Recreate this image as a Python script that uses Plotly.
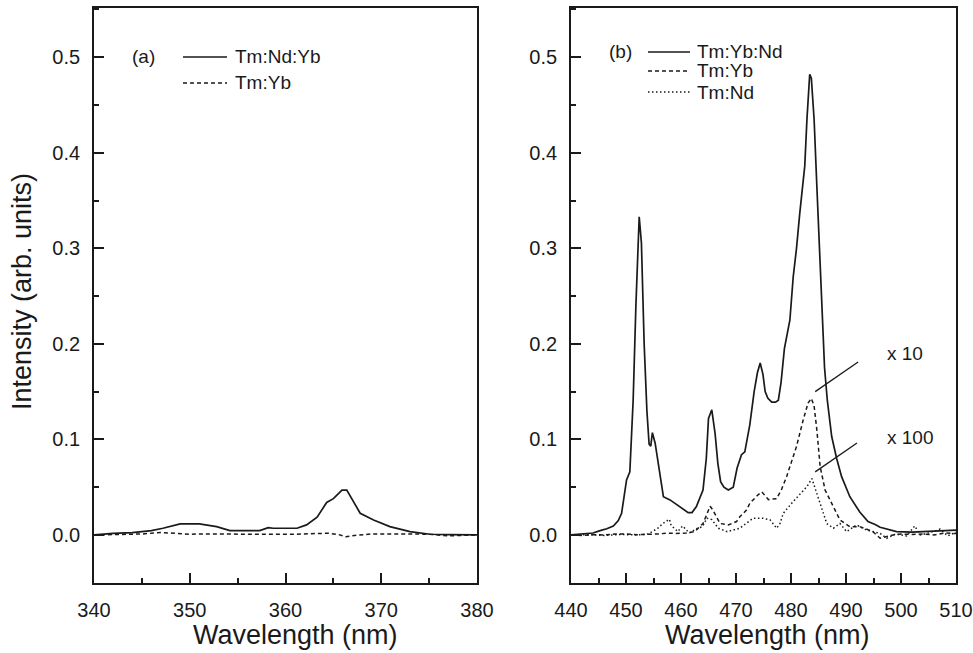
import plotly.graph_objects as go

# ---------------- data ----------------
# panel (a)
wl_a_tmndyb = [340, 342, 344, 346, 347.2, 349, 351, 352.8, 354.2, 357.3, 358.2, 358.7, 361.2, 362.2,
               363.3, 364.3, 365.0, 365.9, 366.4, 367.8, 369.2, 370.9, 373.0, 375.1, 377, 380]
int_a_tmndyb = [0, 0.0017, 0.0025, 0.0045, 0.007, 0.0115, 0.0115, 0.0087, 0.0045, 0.0045, 0.0077, 0.007,
                0.007, 0.0105, 0.0185, 0.034, 0.038, 0.047, 0.047, 0.0227, 0.0157, 0.0087, 0.0035,
                0.0007, 0.0003, 0]

wl_a_tmyb = [340, 343, 345, 347, 348.5, 350, 352, 355, 358, 361, 363, 364.5, 365.5, 366.3, 367.2,
             369, 372, 375, 377, 378.5, 380]
int_a_tmyb = [0, 0.0005, 0.001, 0.0025, 0.0015, 0.0008, 0.001, 0.0005, 0.0007, 0.0008, 0.0012,
              0.0018, 0.0005, -0.002, -0.0005, 0.001, 0.001, 0.0008, -0.001, -0.0005, 0]

# panel (b)
wl_b_tmybnd = [440, 442, 444, 445.3, 446.5, 447.7, 448.6, 449.2, 449.7, 450.1, 450.7, 451.3, 451.8,
               452.4, 452.8, 453.3, 453.8, 454.2, 454.5, 454.8, 455.3, 456.0, 456.8, 458.0, 459.7,
               461.3, 462.0, 462.8, 464.0, 464.6, 465.0, 465.6, 466.2, 466.7, 467.2, 467.8, 468.6,
               469.5, 470.2, 471.0, 471.6, 472.5, 473.3, 473.9, 474.4, 474.9, 475.3, 475.8, 476.5,
               477.2, 477.7, 478.2, 478.8, 479.8, 480.4, 481.0, 481.6, 482.5, 482.9, 483.4, 483.7,
               484.2, 484.7, 485.3, 485.6, 486.1, 486.6, 487.4, 488.3, 489.2, 490.7, 492.5, 494.0,
               495.3, 496.2, 497.4, 499.2, 502, 505, 508, 510]
int_b_tmybnd = [0.0, 0.0008, 0.002, 0.0045, 0.0065, 0.0094, 0.015, 0.0227, 0.04, 0.0576, 0.066, 0.141,
                0.24, 0.333, 0.306, 0.20, 0.13, 0.095, 0.093, 0.107, 0.096, 0.07, 0.040, 0.0367, 0.030,
                0.0234, 0.0234, 0.0297, 0.047, 0.08, 0.122, 0.131, 0.106, 0.075, 0.0558, 0.05, 0.047,
                0.050, 0.070, 0.084, 0.087, 0.115, 0.150, 0.170, 0.180, 0.168, 0.150, 0.143, 0.139,
                0.139, 0.141, 0.160, 0.195, 0.225, 0.270, 0.300, 0.337, 0.386, 0.435, 0.482, 0.478,
                0.435, 0.365, 0.288, 0.232, 0.175, 0.141, 0.103, 0.080, 0.061, 0.040, 0.024, 0.014,
                0.011, 0.008, 0.006, 0.0035, 0.003, 0.0035, 0.004, 0.005]

wl_b_tmyb = [440, 442, 444, 446, 448, 450, 452, 454, 456, 457.4, 459, 461, 462.5, 464, 465.3, 465.8,
             467.1, 468.6, 470.1, 470.7, 471.9, 472.5, 474.0, 474.7, 475.9, 477.4, 478.3, 479.2, 481.0,
             482.2, 483.1, 483.7, 484.2, 484.7, 485.3, 486.2, 487.7, 488.9, 490.7, 492.5, 494.9,
             496.2, 497.4, 498.6, 500, 502, 504, 506, 508, 510]
int_b_tmyb = [0.0, -0.0005, 0.0003, 0, 0.001, 0.001, 0.0002, 0.0005, 0.001, 0.002, 0.0015, 0.002,
              0.0035, 0.012, 0.030, 0.026, 0.012, 0.0105, 0.014, 0.019, 0.026, 0.033, 0.042, 0.045,
              0.037, 0.038, 0.048, 0.061, 0.0925, 0.120, 0.138, 0.143, 0.135, 0.110, 0.0715, 0.047,
              0.030, 0.0157, 0.0087, 0.0087, 0.0035, -0.0035, -0.0017, 0, 0.001, 0.0005, 0.001, 0.0,
              0.002, 0.0015]

wl_b_tmnd = [440, 443, 446, 449, 452, 454, 455.8, 456.7, 457.9, 458.2, 459.4, 460.3, 461.5, 463,
             463.9, 464.7, 465.6, 466.8, 468.4, 470.7, 473.1, 474.9, 476.2, 477.4, 478, 478.6, 480.4,
             481.9, 482.9, 483.8, 484.7, 485.6, 486.5, 487.7, 488.9, 490.1, 491.9, 493.7, 496.2,
             497.4, 499, 501, 502.5, 503.5, 505, 507.1, 508.5, 510]
int_b_tmnd = [0, 0.0003, -0.0005, 0.0005, 0.0, 0.001, 0.007, 0.012, 0.0164, 0.010, 0.0035, 0.0094,
              0.002, 0.007, 0.0087, 0.0175, 0.016, 0.007, 0.0035, 0.007, 0.0175, 0.0175, 0.0157,
              0.007, 0.012, 0.0227, 0.035, 0.0437, 0.0506, 0.059, 0.0437, 0.026, 0.012, 0.007, 0.012,
              0.0035, 0.0105, 0.0052, 0.0017, -0.0035, 0.001, -0.001, 0.0094, 0.0, 0.002, 0.006,
              -0.001, 0.003]

x_ticks_a = [340, 350, 360, 370, 380]
x_ticks_b = [440, 450, 460, 470, 480, 490, 500, 510]
y_ticks = [0.0, 0.1, 0.2, 0.3, 0.4, 0.5]

# ---------------- figure ----------------
W, H = 973, 653
FONT = "Liberation Sans, Arial, sans-serif"
INK = "#1a1a1a"

fig = go.Figure()
SOLID = dict(color=INK, width=1.7)
DASH = dict(color=INK, width=1.5, dash="4px,3px")
DOT = dict(color=INK, width=1.5, dash="1.5px,2.5px")

fig.add_trace(go.Scatter(x=wl_a_tmndyb, y=int_a_tmndyb, mode="lines", line=SOLID, xaxis="x", yaxis="y"))
fig.add_trace(go.Scatter(x=wl_a_tmyb, y=int_a_tmyb, mode="lines", line=DASH, xaxis="x", yaxis="y"))
fig.add_trace(go.Scatter(x=wl_b_tmybnd, y=int_b_tmybnd, mode="lines", line=SOLID, xaxis="x2", yaxis="y2"))
fig.add_trace(go.Scatter(x=wl_b_tmyb, y=int_b_tmyb, mode="lines", line=DASH, xaxis="x2", yaxis="y2"))
fig.add_trace(go.Scatter(x=wl_b_tmnd, y=int_b_tmnd, mode="lines", line=DOT, xaxis="x2", yaxis="y2"))

def px_x(p):
    return p / W

def px_y(p):
    return 1 - p / H

ydom = [px_y(583), px_y(8)]
yr = [-0.0503, 0.5515]

axis_common = dict(
    showline=True, linecolor=INK, linewidth=1.7, mirror=True, automargin=False,
    ticks="inside", ticklen=10, tickwidth=1.5, tickcolor=INK,
    showgrid=False, zeroline=False,
    tickfont=dict(family=FONT, size=20, color=INK),
)

def minor(dt, t0):
    return dict(ticks="inside", ticklen=5, tickwidth=1.5, tickcolor=INK, dtick=dt, tick0=t0)

fig.update_layout(
    width=W, height=H,
    margin=dict(l=0, r=0, t=0, b=0, autoexpand=False),
    paper_bgcolor="white", plot_bgcolor="white",
    showlegend=False,
    xaxis=dict(domain=[px_x(94), px_x(477)], range=[340, 380], tickvals=x_ticks_a,
               ticklabelstandoff=8, anchor="y", minor=minor(5, 340), **axis_common),
    yaxis=dict(domain=ydom, range=yr, tickvals=y_ticks, ticktext=[f"{v:.1f}" for v in y_ticks],
               ticklabelstandoff=8, anchor="x", minor=minor(0.05, 0), **axis_common),
    xaxis2=dict(domain=[px_x(571), px_x(956)], range=[440, 510], tickvals=x_ticks_b,
                ticklabelstandoff=8, anchor="y2", minor=minor(5, 440), **axis_common),
    yaxis2=dict(domain=ydom, range=yr, tickvals=y_ticks, ticktext=[f"{v:.1f}" for v in y_ticks],
                ticklabelstandoff=8, anchor="x2", minor=minor(0.05, 0), **axis_common),
)

annots = []
shapes = []

def text(xp, yp, s, size=18, xanchor="left", angle=0):
    annots.append(dict(x=px_x(xp), y=px_y(yp), xref="paper", yref="paper", text=s, showarrow=False,
                       xanchor=xanchor, yanchor="middle", textangle=angle,
                       font=dict(family=FONT, size=size, color=INK)))

def sample(x0, x1, yp, line):
    shapes.append(dict(type="line", xref="paper", yref="paper", x0=px_x(x0), x1=px_x(x1),
                       y0=px_y(yp), y1=px_y(yp), line=line))

# axis titles
text(295, 635, "Wavelength (nm)", size=27, xanchor="center")
text(767, 635, "Wavelength (nm)", size=27, xanchor="center")
text(22, 292, "Intensity (arb. units)", size=27, xanchor="center", angle=-90)

# panel (a) labels / legend
text(130, 57, "(a)", size=19)
sample(183, 227, 57, SOLID)
text(233, 57, "Tm:Nd:Yb", size=19)
sample(183, 227, 83, DASH)
text(233, 83, "Tm:Yb", size=19)

# panel (b) labels / legend
text(607, 52, "(b)", size=19)
sample(648, 690, 52, SOLID)
text(695, 52, "Tm:Yb:Nd", size=19)
sample(648, 690, 71, DASH)
text(695, 71, "Tm:Yb", size=19)
sample(648, 690, 92, DOT)
text(695, 92, "Tm:Nd", size=19)

# scale factor notes with leader lines (in data coords of panel b)
annots.append(dict(x=497.1, y=0.19, xref="x2", yref="y2", text="x 10", showarrow=False,
                   xanchor="left", yanchor="middle", font=dict(family=FONT, size=19, color=INK)))
annots.append(dict(x=497.1, y=0.1016, xref="x2", yref="y2", text="x 100", showarrow=False,
                   xanchor="left", yanchor="middle", font=dict(family=FONT, size=19, color=INK)))
shapes.append(dict(type="line", xref="x2", yref="y2", x0=492.2, y0=0.181, x1=484.4, y1=0.150,
                   line=dict(color=INK, width=1.3)))
shapes.append(dict(type="line", xref="x2", yref="y2", x0=492.0, y0=0.0963, x1=484.4, y1=0.066,
                   line=dict(color=INK, width=1.3)))

fig.update_layout(annotations=annots, shapes=shapes)

fig.write_html("out.html")
